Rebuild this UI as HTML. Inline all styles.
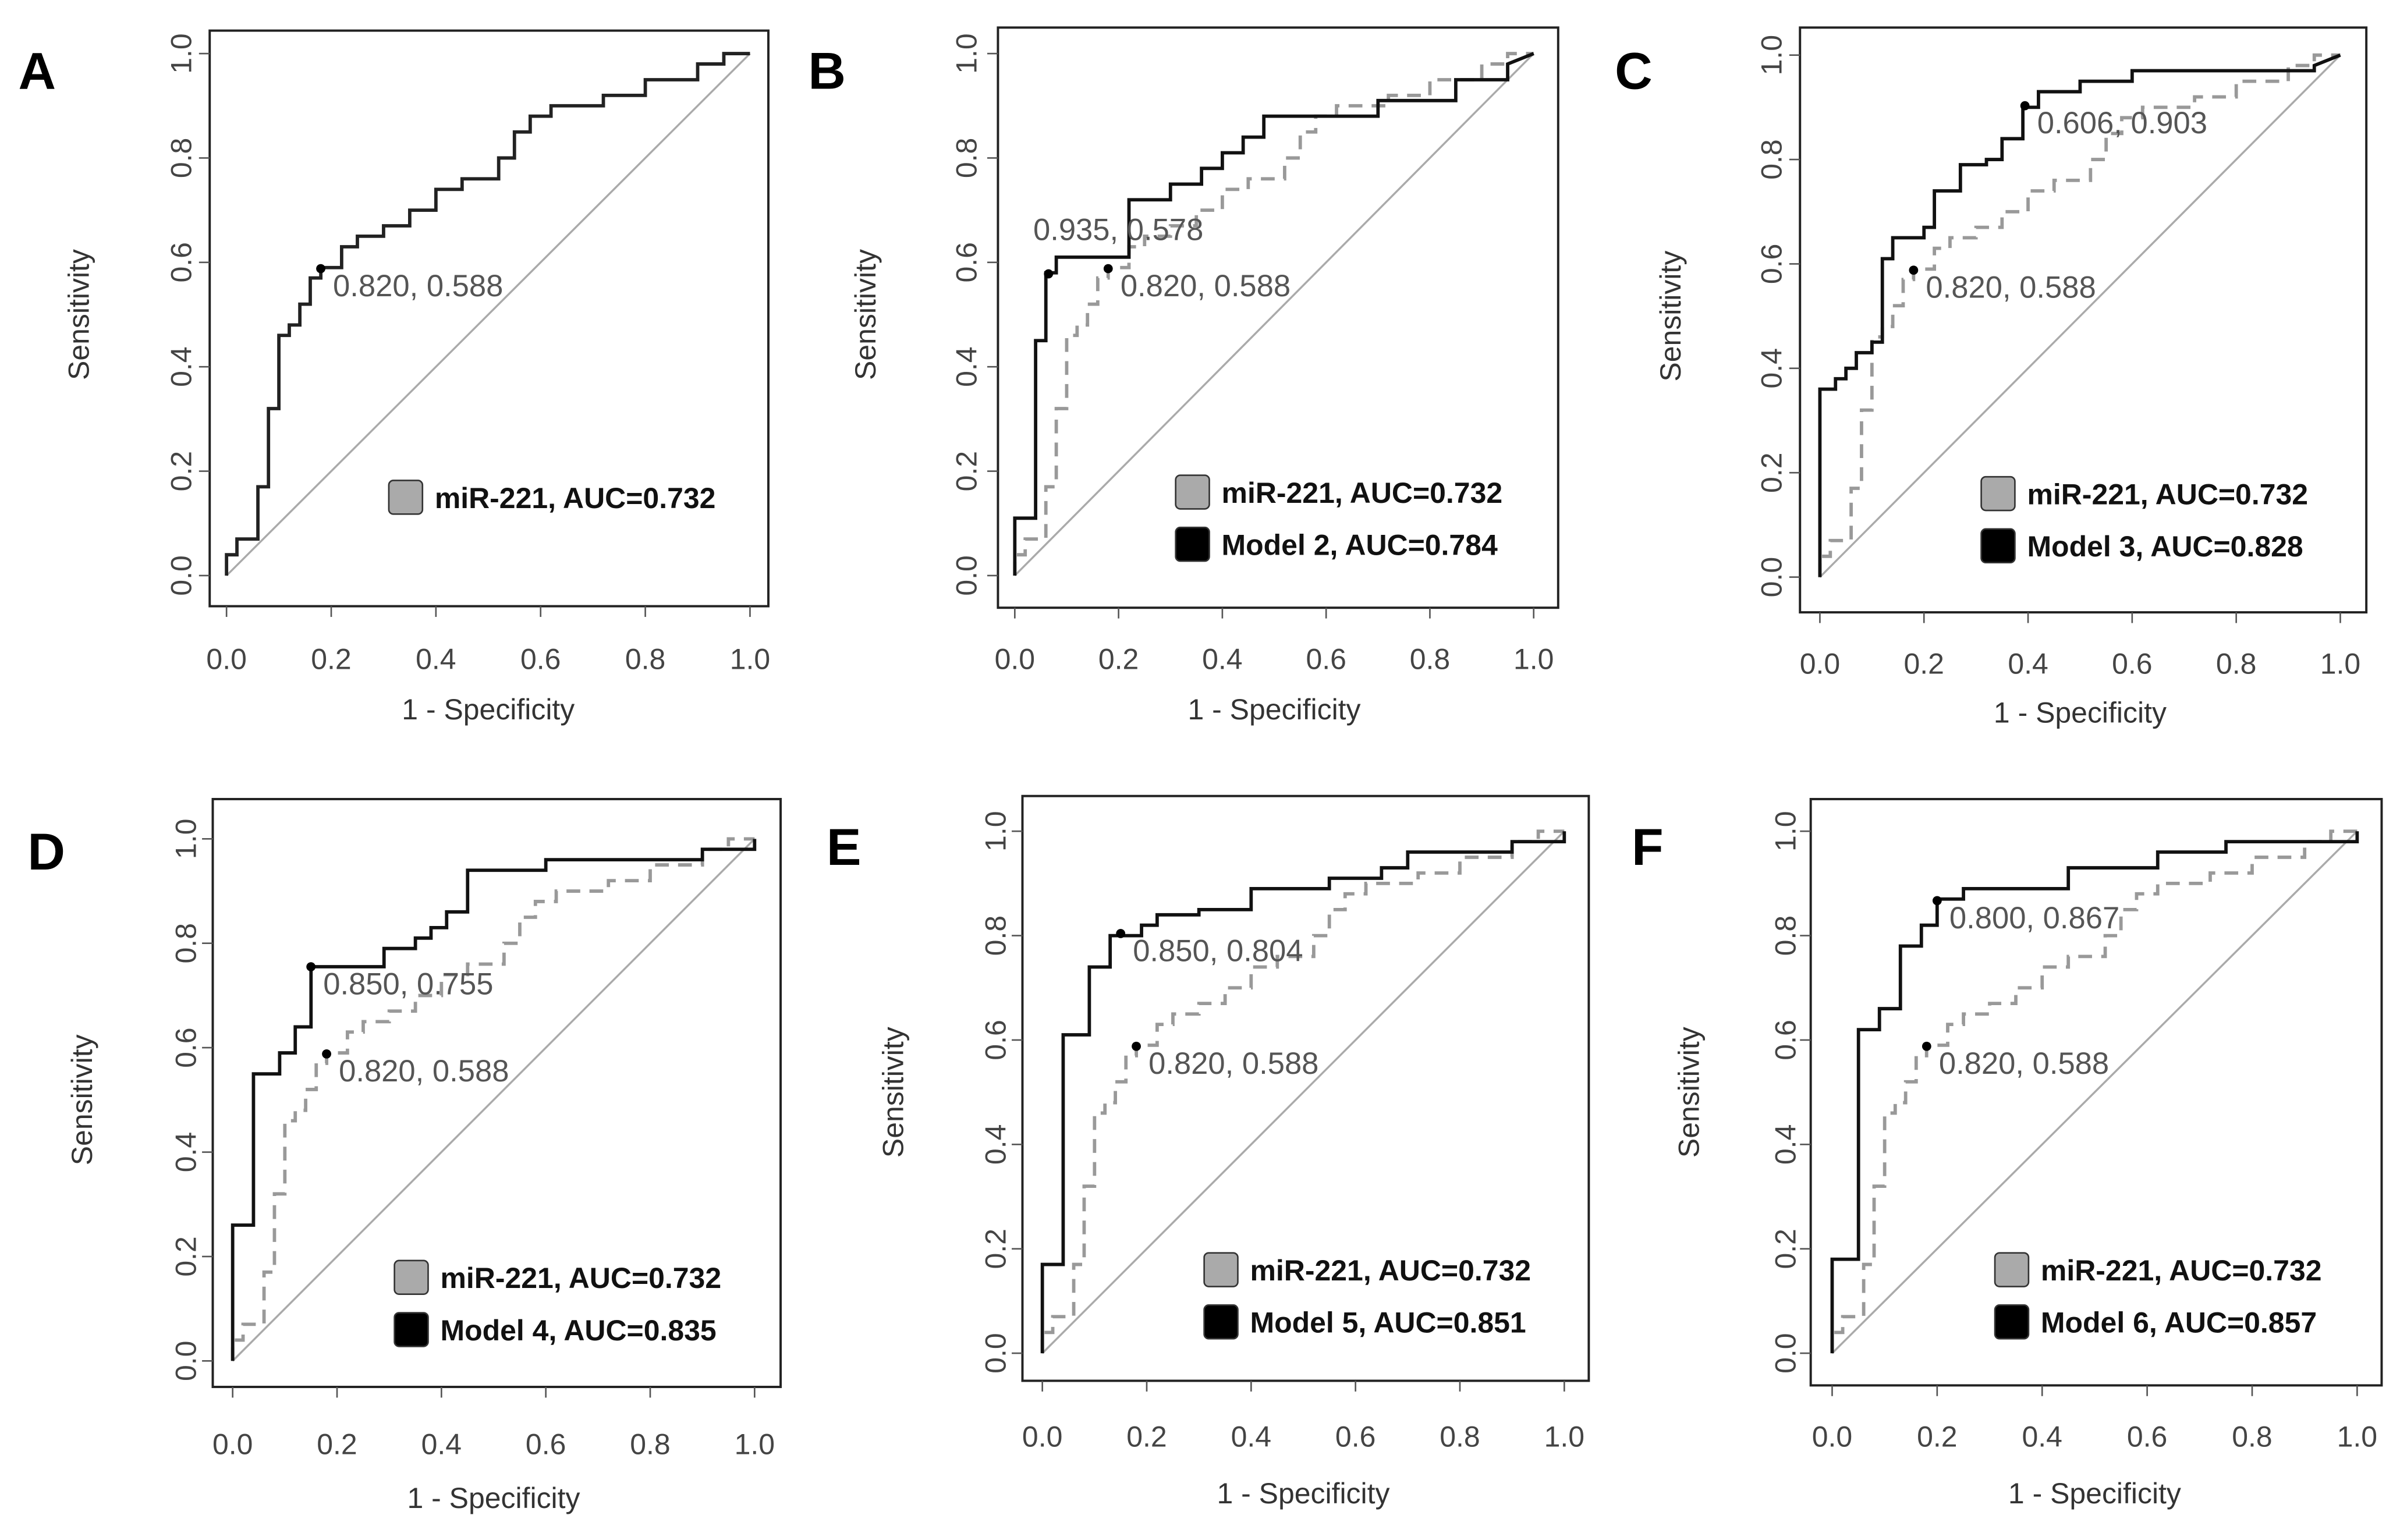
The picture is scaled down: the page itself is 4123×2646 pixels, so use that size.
<!DOCTYPE html>
<html><head><meta charset="utf-8"><style>
html,body{margin:0;padding:0;background:#fff}
svg{display:block}
text{font-family:"Liberation Sans",sans-serif}
</style></head><body>
<svg id="fig" width="4123" height="2646" viewBox="0 0 1568 1006" preserveAspectRatio="none" xmlns="http://www.w3.org/2000/svg"></svg>
<script>
const tickValues=[0,0.2,0.4,0.6,0.8,1.0];
const tickLabels=["0.0","0.2","0.4","0.6","0.8","1.0"];
const mirFpr=[0,0,0.02,0.02,0.06,0.06,0.08,0.08,0.1,0.1,0.12,0.12,0.14,0.14,0.16,0.16,0.18,0.18,0.22,0.22,0.25,0.25,0.3,0.3,0.35,0.35,0.4,0.4,0.45,0.45,0.52,0.52,0.55,0.55,0.58,0.58,0.62,0.62,0.72,0.72,0.8,0.8,0.9,0.9,0.95,0.95,1];
const mirTpr=[0,0.04,0.04,0.07,0.07,0.17,0.17,0.32,0.32,0.46,0.46,0.48,0.48,0.52,0.52,0.57,0.57,0.59,0.59,0.63,0.63,0.65,0.65,0.67,0.67,0.7,0.7,0.74,0.74,0.76,0.76,0.8,0.8,0.85,0.85,0.88,0.88,0.9,0.9,0.92,0.92,0.95,0.95,0.98,0.98,1,1];
const m2Fpr=[0,0,0.04,0.04,0.06,0.06,0.08,0.08,0.22,0.22,0.3,0.3,0.36,0.36,0.4,0.4,0.44,0.44,0.48,0.48,0.7,0.7,0.85,0.85,0.95,0.95,1];
const m2Tpr=[0,0.11,0.11,0.45,0.45,0.58,0.58,0.61,0.61,0.72,0.72,0.75,0.75,0.78,0.78,0.81,0.81,0.84,0.84,0.88,0.88,0.91,0.91,0.95,0.95,0.98,1];
const m3Fpr=[0,0,0.03,0.03,0.05,0.05,0.07,0.07,0.1,0.1,0.12,0.12,0.14,0.14,0.2,0.2,0.22,0.22,0.27,0.27,0.32,0.32,0.35,0.35,0.39,0.39,0.42,0.42,0.5,0.5,0.6,0.6,0.95,0.95,1];
const m3Tpr=[0,0.36,0.36,0.38,0.38,0.4,0.4,0.43,0.43,0.45,0.45,0.61,0.61,0.65,0.65,0.67,0.67,0.74,0.74,0.79,0.79,0.8,0.8,0.84,0.84,0.9,0.9,0.93,0.93,0.95,0.95,0.97,0.97,0.98,1];
const m4Fpr=[0,0,0.04,0.04,0.09,0.09,0.12,0.12,0.15,0.15,0.29,0.29,0.35,0.35,0.38,0.38,0.41,0.41,0.45,0.45,0.6,0.6,0.9,0.9,1,1];
const m4Tpr=[0,0.26,0.26,0.55,0.55,0.59,0.59,0.64,0.64,0.755,0.755,0.79,0.79,0.81,0.81,0.83,0.83,0.86,0.86,0.94,0.94,0.96,0.96,0.98,0.98,1];
const m5Fpr=[0,0,0.04,0.04,0.09,0.09,0.13,0.13,0.19,0.19,0.22,0.22,0.3,0.3,0.4,0.4,0.55,0.55,0.65,0.65,0.7,0.7,0.9,0.9,1,1];
const m5Tpr=[0,0.17,0.17,0.61,0.61,0.74,0.74,0.8,0.8,0.82,0.82,0.84,0.84,0.85,0.85,0.89,0.89,0.91,0.91,0.93,0.93,0.96,0.96,0.98,0.98,1];
const m6Fpr=[0,0,0.05,0.05,0.09,0.09,0.13,0.13,0.17,0.17,0.2,0.2,0.25,0.25,0.45,0.45,0.62,0.62,0.75,0.75,1,1];
const m6Tpr=[0,0.18,0.18,0.62,0.62,0.66,0.66,0.78,0.78,0.82,0.82,0.87,0.87,0.89,0.89,0.93,0.93,0.96,0.96,0.98,0.98,1];
const mirPoint=[0.18,0.588], mirPointLabel="0.820, 0.588";
const panels=[
 {L:"A",lx:12,ly:58,x0:148,x1:490,y0:376,y1:35,box:[137,20,502,396],yt:58,xt:470,yl:125,xl:437,model:null},
 {L:"B",lx:528,ly:58,x0:663,x1:1002,y0:376,y1:35,box:[652,18,1018,397],yt:572,xt:470,yl:638,xl:437,model:{n:"Model 2, AUC=0.784",f:m2Fpr,t:m2Tpr,p:[0.065,0.578],pl:"0.935, 0.578",off:[-10,-22]}},
 {L:"C",lx:1055,ly:58,x0:1189,x1:1529,y0:377,y1:36,box:[1176,18,1546,400],yt:1098,xt:472,yl:1164,xl:440,model:{n:"Model 3, AUC=0.828",f:m3Fpr,t:m3Tpr,p:[0.394,0.903],pl:"0.606, 0.903",off:[8,18]}},
 {L:"D",lx:18,ly:568,x0:152,x1:493,y0:889,y1:548,box:[139,522,510,906],yt:60,xt:985,yl:128,xl:950,model:{n:"Model 4, AUC=0.835",f:m4Fpr,t:m4Tpr,p:[0.15,0.755],pl:"0.850, 0.755",off:[8,18]}},
 {L:"E",lx:540,ly:565,x0:681,x1:1022,y0:884,y1:543,box:[668,520,1038,902],yt:590,xt:982,yl:657,xl:945,model:{n:"Model 5, AUC=0.851",f:m5Fpr,t:m5Tpr,p:[0.15,0.804],pl:"0.850, 0.804",off:[8,18]}},
 {L:"F",lx:1066,ly:565,x0:1197,x1:1540,y0:884,y1:543,box:[1183,522,1556,905],yt:1110,xt:982,yl:1173,xl:945,model:{n:"Model 6, AUC=0.857",f:m6Fpr,t:m6Tpr,p:[0.2,0.867],pl:"0.800, 0.867",off:[8,18]}}
];
const NS="http://www.w3.org/2000/svg";
const svg=document.getElementById('fig');
function mk(tag,attrs,parent,txt){const e=document.createElementNS(NS,tag);for(const k in attrs)e.setAttribute(k,attrs[k]);if(txt!=null)e.textContent=txt;parent.appendChild(e);return e;}
panels.forEach(P=>{
 const g=mk('g',{},svg);
 
 
 const X=v=>P.x0+v*(P.x1-P.x0), Y=v=>P.y0-v*(P.y0-P.y1);
 const lt=mk('text',{x:P.lx,y:P.ly,'font-size':34,'font-weight':'bold',fill:'#000'},g,P.L);
 
 const b=P.box;
 const bx=mk('rect',{x:b[0],y:b[1],width:b[2]-b[0],height:b[3]-b[1],fill:'none',stroke:'#222','stroke-width':1.5},g);
 
 const dg=mk('line',{x1:X(0),y1:Y(0),x2:X(1),y2:Y(1),stroke:'#aaa','stroke-width':1.3},g);
 
 tickValues.forEach((v,i)=>{
  mk('line',{x1:X(v),y1:b[3],x2:X(v),y2:b[3]+7,stroke:'#555','stroke-width':1},g);
  const tx=mk('text',{x:X(v),y:P.xl,'font-size':19,fill:'#444','text-anchor':'middle'},g,tickLabels[i]);
  
  mk('line',{x1:b[0],y1:Y(v),x2:b[0]-7,y2:Y(v),stroke:'#555','stroke-width':1},g);
  const ty=mk('text',{x:P.yl,y:Y(v),'font-size':19,fill:'#444','text-anchor':'middle',transform:`rotate(-90 ${P.yl} ${Y(v)})`},g,tickLabels[i]);
  
 });
 const xtl=mk('text',{x:(P.x0+P.x1)/2,y:P.xt,'font-size':19,fill:'#333','text-anchor':'middle'},g,'1 - Specificity');
 
 const ym=(P.y0+P.y1)/2;
 const ytl=mk('text',{x:P.yt,y:ym,'font-size':19,fill:'#333','text-anchor':'middle',transform:`rotate(-90 ${P.yt} ${ym})`},g,'Sensitivity');
 
 const path=(f,t)=>f.map((v,i)=>(i?'L':'M')+X(v).toFixed(1)+','+Y(t[i]).toFixed(1)).join(' ');
 const single=!P.model;
 const mc=mk('path',{d:path(mirFpr,mirTpr),fill:'none',stroke:single?'#222':'#999','stroke-width':2.2,'stroke-dasharray':single?'none':'9 6'},g);
 
 const mp=mk('circle',{cx:X(mirPoint[0]),cy:Y(mirPoint[1]),r:3,fill:'#000'},g);
 
 const ml=mk('text',{x:X(mirPoint[0])+8,y:Y(mirPoint[1])+18,'font-size':20,fill:'#555'},g,mirPointLabel);
 
 if(P.model){
  const m=P.model;
  const c=mk('path',{d:path(m.f,m.t),fill:'none',stroke:'#111','stroke-width':2.2},g);
  
  const p=mk('circle',{cx:X(m.p[0]),cy:Y(m.p[1]),r:3,fill:'#000'},g);
  
  const l=mk('text',{x:X(m.p[0])+m.off[0],y:Y(m.p[1])+m.off[1],'font-size':20,fill:'#555'},g,m.pl);
  
 }
 const entries=single?[{n:"miR-221, AUC=0.732",c:'#aaa',y:0.15}]:[{n:"miR-221, AUC=0.732",c:'#aaa',y:0.16},{n:P.model.n,c:'#000',y:0.06}];
 entries.forEach(e=>{
  const lg=mk('g',{},g);
  
  mk('rect',{x:X(0.31),y:Y(e.y)-11,width:22,height:22,rx:3,fill:e.c,stroke:'#333','stroke-width':1},lg);
  mk('text',{x:X(0.31)+30,y:Y(e.y)+7,'font-size':19,fill:'#111','font-weight':'bold'},lg,e.n);
 });
});
</script>
</body></html>
